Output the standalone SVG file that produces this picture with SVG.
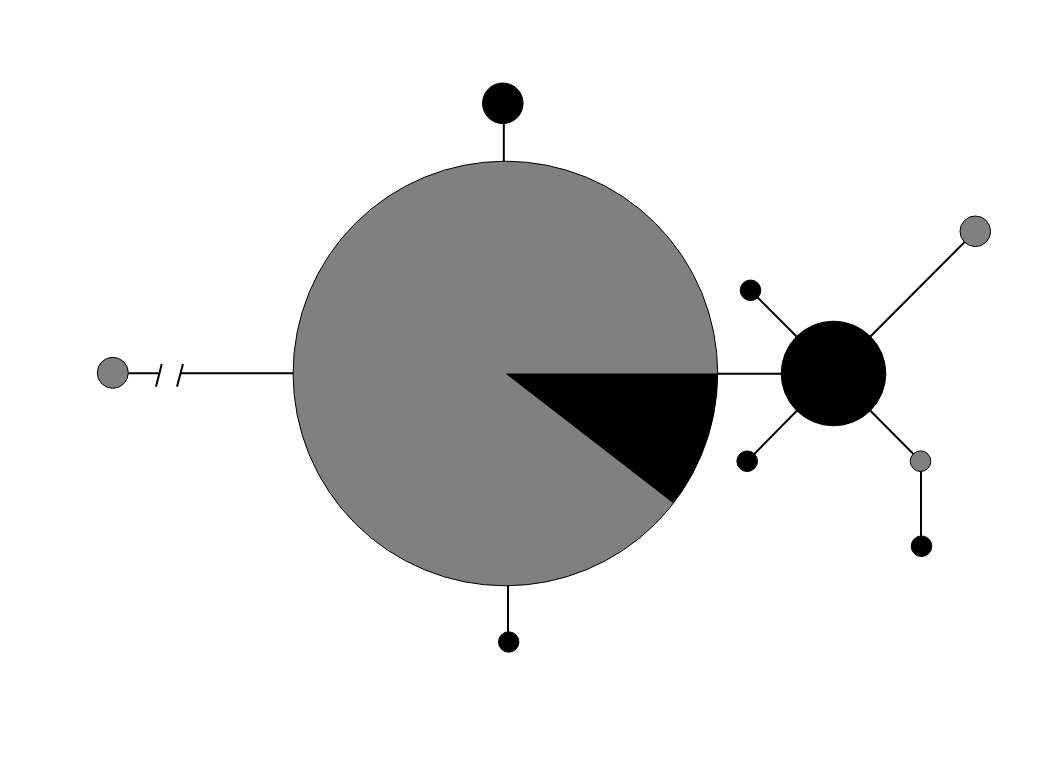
<svg xmlns="http://www.w3.org/2000/svg" width="1051" height="765" viewBox="0 0 1051 765">
<style>
.edge{stroke:#000;stroke-width:2;fill:none}
.g{fill:#808080;stroke:#000;stroke-width:1}
.b{fill:#000;stroke:#000;stroke-width:1}
</style>
<rect width="1051" height="765" fill="#fff"/>
<g id="connectors">
<line class="edge" x1="112.8" y1="373.3" x2="158.5" y2="373.3"/>
<line class="edge" x1="181" y1="373.3" x2="293.5" y2="373.3"/>
<line class="edge" x1="156" y1="386.7" x2="161.7" y2="364"/>
<line class="edge" x1="177" y1="386.7" x2="183" y2="364"/>
<line class="edge" x1="503.8" y1="103.3" x2="503.8" y2="162"/>
<line class="edge" x1="508" y1="585" x2="508" y2="642"/>
<line class="edge" x1="717" y1="373.7" x2="833.5" y2="373.7"/>
<line class="edge" x1="750.5" y1="290.3" x2="833.5" y2="373.5"/>
<line class="edge" x1="747.2" y1="461.2" x2="833.5" y2="373.5"/>
<line class="edge" x1="975.3" y1="231.3" x2="833.5" y2="373.5"/>
<line class="edge" x1="920.5" y1="461.2" x2="833.5" y2="373.5"/>
<line class="edge" x1="921" y1="461.2" x2="921" y2="546.2"/>
</g>
<g id="main">
<circle class="g" cx="505.4" cy="373.5" r="212.3"/>
<path d="M505.4,373.5 L717.7,373.5 A212.3,212.3 0 0 1 673.3,503.3 Z" fill="#000"/>
</g>
<g id="n-top"><circle class="b" cx="502.8" cy="103.3" r="20.3"/></g>
<g id="n-bottom"><circle class="b" cx="508.7" cy="642" r="10.2"/></g>
<g id="n-left"><circle class="g" cx="112.8" cy="372.8" r="15.5"/></g>
<g id="n-hub"><circle class="b" cx="833.5" cy="373.5" r="52.3"/></g>
<g id="n-ul"><circle class="b" cx="750.5" cy="290.3" r="10.3"/></g>
<g id="n-ll"><circle class="b" cx="747.2" cy="461.2" r="10.3"/></g>
<g id="n-ur"><circle class="g" cx="975.3" cy="231.3" r="15.3"/></g>
<g id="n-lr"><circle class="g" cx="920.5" cy="461.2" r="10.3"/></g>
<g id="n-lr2"><circle class="b" cx="921.5" cy="546.2" r="10.3"/></g>
</svg>
